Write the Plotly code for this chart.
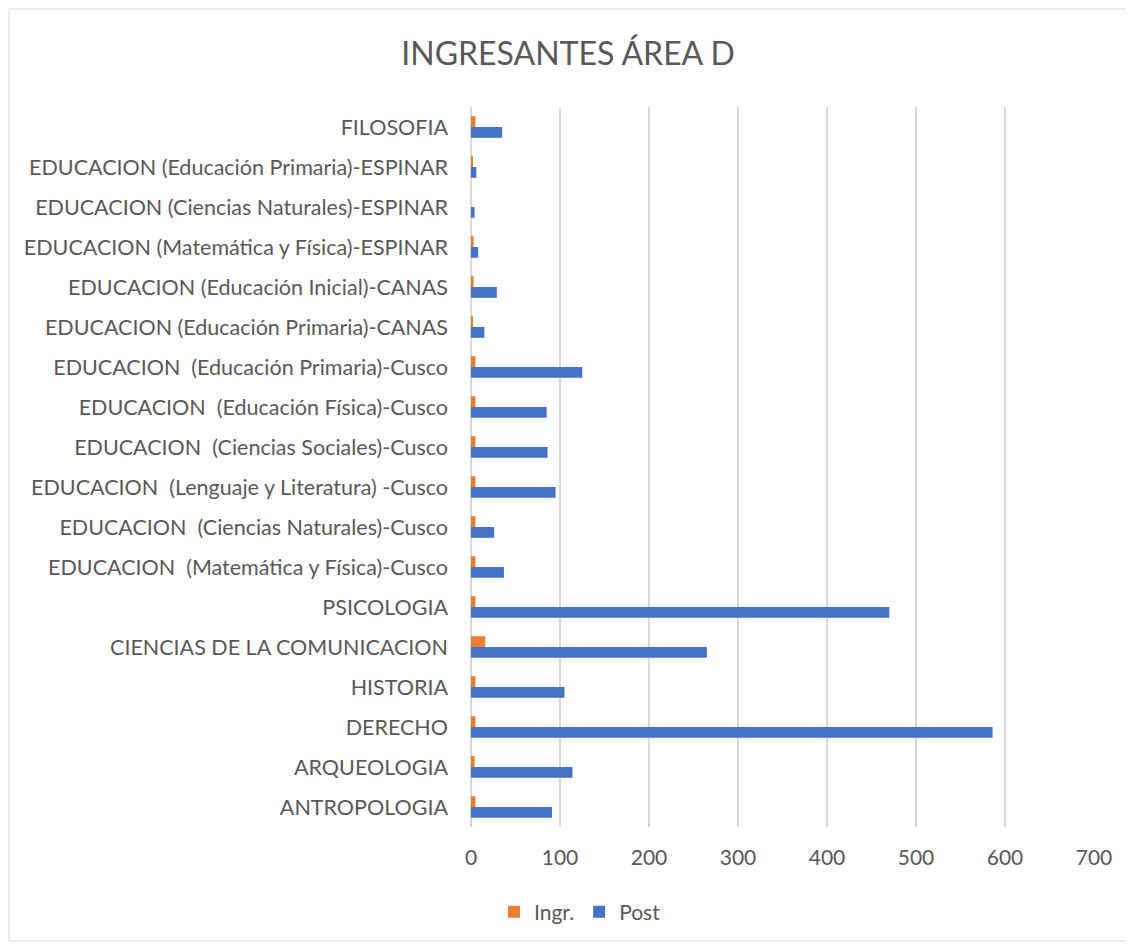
import plotly.graph_objects as go

categories = [
    "ANTROPOLOGIA",
    "ARQUEOLOGIA",
    "DERECHO",
    "HISTORIA",
    "CIENCIAS DE LA COMUNICACION",
    "PSICOLOGIA",
    "EDUCACION\u00a0 (Matemática y Física)-Cusco",
    "EDUCACION\u00a0 (Ciencias Naturales)-Cusco",
    "EDUCACION\u00a0 (Lenguaje y Literatura) -Cusco",
    "EDUCACION\u00a0 (Ciencias Sociales)-Cusco",
    "EDUCACION\u00a0 (Educación Física)-Cusco",
    "EDUCACION\u00a0 (Educación Primaria)-Cusco",
    "EDUCACION (Educación Primaria)-CANAS",
    "EDUCACION (Educación Inicial)-CANAS",
    "EDUCACION (Matemática y Física)-ESPINAR",
    "EDUCACION (Ciencias Naturales)-ESPINAR",
    "EDUCACION (Educación Primaria)-ESPINAR",
    "FILOSOFIA",
]
ingr = [5, 4, 5, 5, 16, 5, 5, 5, 5, 5, 5, 5, 2, 3, 3, 0, 2, 5]
post = [91, 114, 586, 105, 265, 470, 37, 26, 95, 86, 85, 125, 15, 29, 8, 4, 6, 35]
x_ticks = [0, 100, 200, 300, 400, 500, 600, 700]

fig = go.Figure()
fig.add_trace(go.Bar(y=categories, x=post, name="Post", orientation="h",
                     marker=dict(color="#4472C4", line=dict(width=0))))
fig.add_trace(go.Bar(y=categories, x=ingr, name="Ingr.", orientation="h",
                     marker=dict(color="#ED7D31", line=dict(width=0))))

W, H = 1120, 934
L, R, T, B = 463, 34, 99, 115
PW = W - L - R
font_family = "Lato, 'Open Sans', sans-serif"
fig.update_layout(
    width=W, height=H,
    paper_bgcolor="white", plot_bgcolor="white",
    title=dict(text="INGRESANTES ÁREA D", x=0.5, xanchor="center", y=1 - 46 / H, yanchor="middle",
               font=dict(family=font_family, size=32, color="#595959")),
    barmode="group", bargap=0.46, bargroupgap=0,
    margin=dict(l=L, r=R, t=T, b=B, autoexpand=False),
    xaxis=dict(range=[0, 700], tickvals=x_ticks, showgrid=True, gridcolor="#D9D9D9", gridwidth=2,
               zeroline=True, zerolinecolor="#D9D9D9", zerolinewidth=2,
               tickfont=dict(family=font_family, size=21, color="#595959"), ticks="", ticklabelstandoff=16),
    yaxis=dict(categoryorder="array", categoryarray=categories, showgrid=False, ticks="",
               tickfont=dict(family=font_family, size=21.5, color="#595959"), ticklabelstandoff=22),
    legend=dict(orientation="h", x=(572 - L) / PW, xanchor="center", y=-85 / (H - T - B), yanchor="middle",
                traceorder="reversed", font=dict(family=font_family, size=21, color="#595959"),
                itemwidth=30),
    showlegend=True,
)
fig.add_shape(type="rect", xref="paper", yref="paper",
              x0=-(L - 1) / PW, x1=1 + (R - 1) / PW,
              y0=-(B - 1) / (H - T - B), y1=1 + (T - 1) / (H - T - B),
              line=dict(color="#D9D9D9", width=1))
fig.write_html("out.html")
